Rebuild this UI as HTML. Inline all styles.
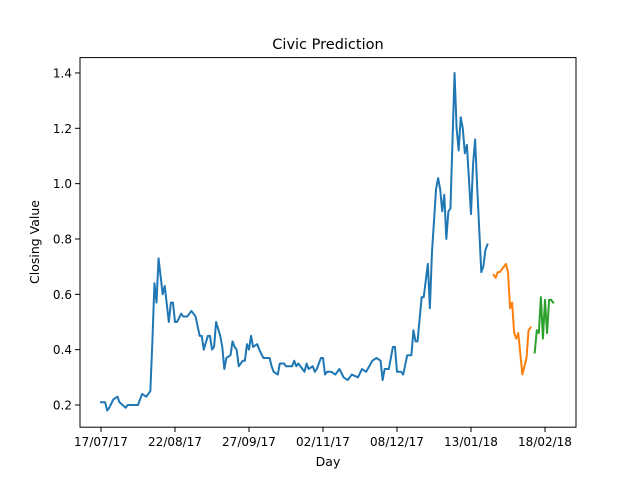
<!DOCTYPE html>
<html><head><meta charset="utf-8"><style>
body{margin:0;background:#fff;}
svg text{font-family:"DejaVu Sans","Liberation Sans",sans-serif;fill:#000;}
</style></head><body>
<svg id="chart" width="640" height="480">
<rect width="640" height="480" fill="#fff"/>
<text x="328" y="49" font-size="14.5" text-anchor="middle">Civic Prediction</text>
<text x="328" y="466" font-size="12.5" text-anchor="middle">Day</text>
<text transform="translate(39,242) rotate(-90)" font-size="12.5" text-anchor="middle">Closing Value</text>
<g id="plot"></g>
<rect x="80" y="57.6" width="496" height="369.6" fill="none" stroke="#000" stroke-width="1"/>
</svg>
<script>
const blueDays=[0,2,3,4,6,8,9,12,13,16,18,20,22,24,25,26,27,28,30,31,33,34,35,36,37,39,40,42,44,45,46,48,49,50,52,53,54,55,56,58,59,60,61,63,64,65,66,67,69,70,71,72,73,74,76,77,79,81,82,83,84,86,87,89,90,93,94,95,96,98,99,100,101,103,104,105,107,108,109,110,112,114,116,118,120,122,125,127,129,132,134,136,137,138,140,142,143,144,146,147,149,151,152,153,154,156,157,159,160,161,163,164,165,166,167,168,169,170,172,173,174,175,176,177,178,180,181,182,183,185,186,187,188];
const blueVals=[0.21,0.21,0.18,0.19,0.22,0.23,0.21,0.19,0.20,0.20,0.20,0.24,0.23,0.25,0.43,0.64,0.57,0.73,0.60,0.63,0.50,0.57,0.57,0.50,0.50,0.53,0.52,0.52,0.54,0.53,0.52,0.45,0.45,0.40,0.45,0.45,0.40,0.41,0.50,0.45,0.41,0.33,0.37,0.38,0.43,0.41,0.40,0.34,0.36,0.36,0.42,0.40,0.45,0.41,0.42,0.40,0.37,0.37,0.37,0.34,0.32,0.31,0.35,0.35,0.34,0.34,0.36,0.34,0.35,0.33,0.32,0.35,0.33,0.34,0.32,0.33,0.37,0.37,0.31,0.32,0.32,0.31,0.33,0.30,0.29,0.31,0.30,0.33,0.32,0.36,0.37,0.36,0.29,0.33,0.33,0.41,0.41,0.32,0.32,0.31,0.38,0.38,0.47,0.43,0.43,0.59,0.59,0.71,0.55,0.75,0.98,1.02,0.98,0.90,0.96,0.80,0.90,0.91,1.40,1.20,1.12,1.24,1.20,1.11,1.14,0.89,1.07,1.16,0.99,0.68,0.70,0.76,0.78];
const orangeDays=[191,192,193,194,196,197,198,199,200,201,202,203,205,207,208,209];
const orangeVals=[0.67,0.66,0.68,0.68,0.70,0.71,0.68,0.55,0.57,0.46,0.44,0.46,0.31,0.37,0.47,0.48];
const greenDays=[211,212,213,214,215,216,217,218,219,220];
const greenVals=[0.39,0.47,0.46,0.59,0.44,0.58,0.46,0.58,0.58,0.57];
const xTickDays=[0,36,72,108,144,180,216];
const xTickLabels=["17/07/17","22/08/17","27/09/17","02/11/17","08/12/17","13/01/18","18/02/18"];
const yTicks=[0.2,0.4,0.6,0.8,1.0,1.2,1.4];
const yTickLabels=["0.2","0.4","0.6","0.8","1.0","1.2","1.4"];

const NS="http://www.w3.org/2000/svg";
const plot=document.getElementById('plot');
function xs(d){return 101+d*74/36;}
function ys(v){return 405-(v-0.2)*276.7;}
function mk(t,a){const e=document.createElementNS(NS,t);for(const k in a)e.setAttribute(k,a[k]);plot.appendChild(e);return e;}
xTickDays.forEach((d,i)=>{
  const l=mk('line',{x1:xs(d),x2:xs(d),y1:427.2,y2:432});
  l.setAttribute('stroke','#000');
  
  
  const t=mk('text',{x:xs(d),y:446,'font-size':'12','text-anchor':'middle'});
  t.textContent=xTickLabels[i];
  
  
});
yTicks.forEach((v,i)=>{
  const l=mk('line',{x1:75,x2:80,y1:ys(v),y2:ys(v)});
  l.setAttribute('stroke','#000');
  
  
  const t=mk('text',{x:72,y:ys(v)+4.5,'font-size':'12','text-anchor':'end'});
  t.textContent=yTickLabels[i];
  
  
});
function series(days,vals,color,name){
  const p=mk('polyline',{points:days.map((d,i)=>xs(d)+','+ys(vals[i])).join(' '),fill:'none',stroke:color,'stroke-width':'2','stroke-linejoin':'round','stroke-linecap':'square'});
  
  
}
series(blueDays,blueVals,'#1f77b4','actual-series-line');
series(orangeDays,orangeVals,'#ff7f0e','prediction-series-line');
series(greenDays,greenVals,'#2ca02c','forecast-series-line');
</script>
</body></html>
